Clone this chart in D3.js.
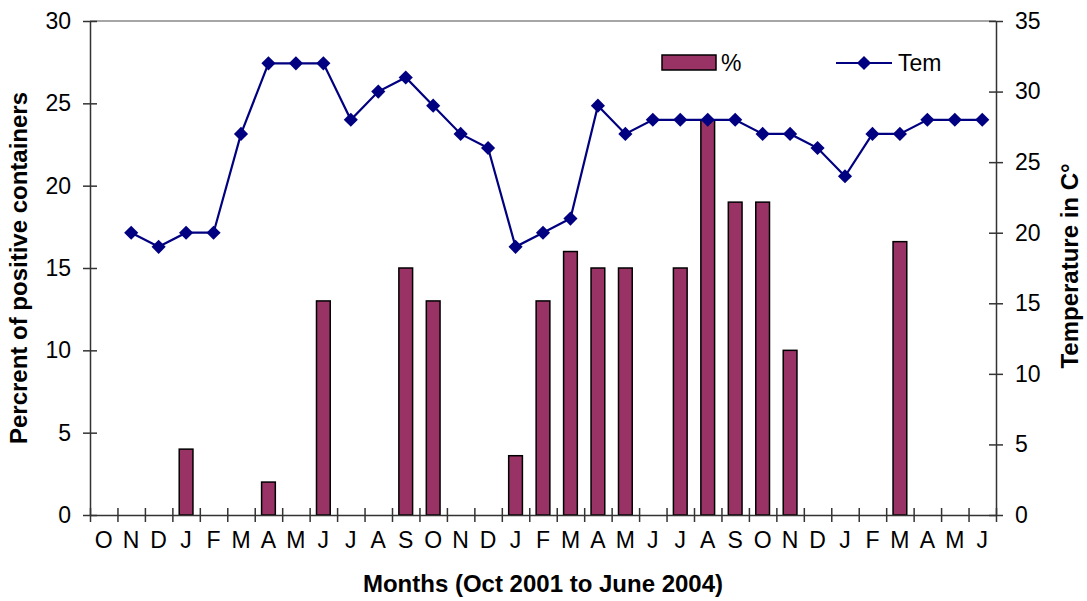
<!DOCTYPE html>
<html lang="en">
<head>
<meta charset="UTF-8">
<title>Percent of positive containers and temperature</title>
<script src="https://d3js.org/d3.v7.min.js"></script>
<style>
  body { margin: 0; background: #fff; font-family: "Liberation Sans", Arial, sans-serif; }
  .tick text { font-size: 23px; fill: #000; }
  .axis path, .axis line { stroke: #333; stroke-width: 1.5; }
  .title { font-size: 24px; font-weight: bold; fill: #000; }
</style>
</head>
<body>
<div id="chart"></div>
<script>
// months Oct 2001 .. June 2004
const months = ["O","N","D","J","F","M","A","M","J","J","A","S","O","N","D",
                "J","F","M","A","M","J","J","A","S","O","N","D","J","F","M","A","M","J"];
// % positive containers (null = no bar)
const percent = [null,null,null,4,null,null,2,null,13,null,null,15,13,null,null,
                 3.6,13,16,15,15,null,15,24,19,19,10,null,null,null,16.6,null,null,null];
// temperature, no reading for first month
const temp = [null,20,19,20,20,27,32,32,32,28,30,31,29,27,26,
              19,20,21,29,27,28,28,28,28,27,27,26,24,27,27,28,28,28];
const leftTicks = [0,5,10,15,20,25,30];
const rightTicks = [0,5,10,15,20,25,30,35];

const W = 1087, H = 601;
const plot = { left: 90, right: 996, top: 21, bottom: 515 };

const svg = d3.select("#chart").append("svg").attr("width", W).attr("height", H);

const idx = d3.range(months.length);
const x = d3.scaleBand().domain(idx).range([plot.left, plot.right]).padding(0);
const xEdge = d3.scaleLinear().domain([0, months.length]).range([plot.left, plot.right]);
const yL = d3.scaleLinear().domain([0, 30]).range([plot.bottom, plot.top]);
const yR = d3.scaleLinear().domain([0, 35]).range([plot.bottom, plot.top]);

// top border of plot area
svg.append("line")
  .attr("x1", plot.left).attr("x2", plot.right)
  .attr("y1", plot.top).attr("y2", plot.top)
  .attr("stroke", "#888").attr("stroke-width", 1.5);

// bars
const barW = x.bandwidth() * 0.5;
svg.selectAll(".bar")
  .data(idx.filter(i => percent[i] != null))
  .enter().append("rect")
  .attr("class", "bar")
  .attr("x", i => x(i) + (x.bandwidth() - barW) / 2)
  .attr("width", barW)
  .attr("y", i => yL(percent[i]))
  .attr("height", i => yL(0) - yL(percent[i]))
  .attr("fill", "#993366")
  .attr("stroke", "#000")
  .attr("stroke-width", 1.5);

// axes
const gL = svg.append("g").attr("class", "axis")
  .attr("transform", `translate(${plot.left},0)`)
  .call(d3.axisLeft(yL).tickValues(leftTicks).tickSizeInner(7).tickSizeOuter(0).tickPadding(12));
gL.selectAll(".tick line").attr("x2", 7).attr("x1", -7);

const gR = svg.append("g").attr("class", "axis")
  .attr("transform", `translate(${plot.right},0)`)
  .call(d3.axisRight(yR).tickValues(rightTicks).tickSizeInner(7).tickSizeOuter(0).tickPadding(12));
gR.selectAll(".tick line").attr("x1", -7).attr("x2", 7);

const gX = svg.append("g").attr("class", "axis")
  .attr("transform", `translate(0,${plot.bottom})`)
  .call(d3.axisBottom(xEdge).tickValues(d3.range(months.length + 1)).tickFormat("").tickSizeInner(7).tickSizeOuter(0));
gX.selectAll(".tick line").attr("y1", -7).attr("y2", 7);

const gXL = svg.append("g").attr("class", "axis")
  .attr("transform", `translate(0,${plot.bottom})`)
  .call(d3.axisBottom(x).tickFormat(i => months[i]).tickSize(0).tickPadding(17));
gXL.select(".domain").remove();

// temperature line
const line = d3.line()
  .defined(i => temp[i] != null)
  .x(i => x(i) + x.bandwidth() / 2)
  .y(i => yR(temp[i]));
svg.append("path")
  .datum(idx)
  .attr("d", line)
  .attr("fill", "none")
  .attr("stroke", "#000080")
  .attr("stroke-width", 2.2);

const marker = d3.symbol().type(d3.symbolSquare).size(100);
svg.selectAll(".mark")
  .data(idx.filter(i => temp[i] != null))
  .enter().append("path")
  .attr("class", "mark")
  .attr("transform", i => `translate(${x(i) + x.bandwidth() / 2},${yR(temp[i])}) rotate(45)`)
  .attr("d", marker)
  .attr("fill", "#000080");

// legend
const leg = svg.append("g");
leg.append("rect").attr("x", 662).attr("y", 55).attr("width", 54).attr("height", 15)
  .attr("fill", "#993366").attr("stroke", "#000").attr("stroke-width", 1.5);
leg.append("text").attr("x", 721).attr("y", 71).style("font-size", "23px").text("%");
leg.append("line").attr("x1", 836).attr("x2", 892).attr("y1", 63).attr("y2", 63)
  .attr("stroke", "#000080").attr("stroke-width", 2.2);
leg.append("path").attr("transform", "translate(864,63) rotate(45)")
  .attr("d", marker).attr("fill", "#000080");
leg.append("text").attr("x", 898).attr("y", 71).style("font-size", "23px").text("Tem");

// titles
svg.append("text").attr("class", "title")
  .attr("x", (plot.left + plot.right) / 2).attr("y", 592)
  .attr("text-anchor", "middle")
  .text("Months (Oct 2001 to June 2004)");
svg.append("text").attr("class", "title")
  .attr("transform", "translate(27,268) rotate(-90)")
  .attr("text-anchor", "middle")
  .text("Percrent of positive containers");
svg.append("text").attr("class", "title")
  .attr("transform", "translate(1078,266) rotate(-90)")
  .attr("text-anchor", "middle")
  .text("Temperature in C°");
</script>
</body>
</html>
